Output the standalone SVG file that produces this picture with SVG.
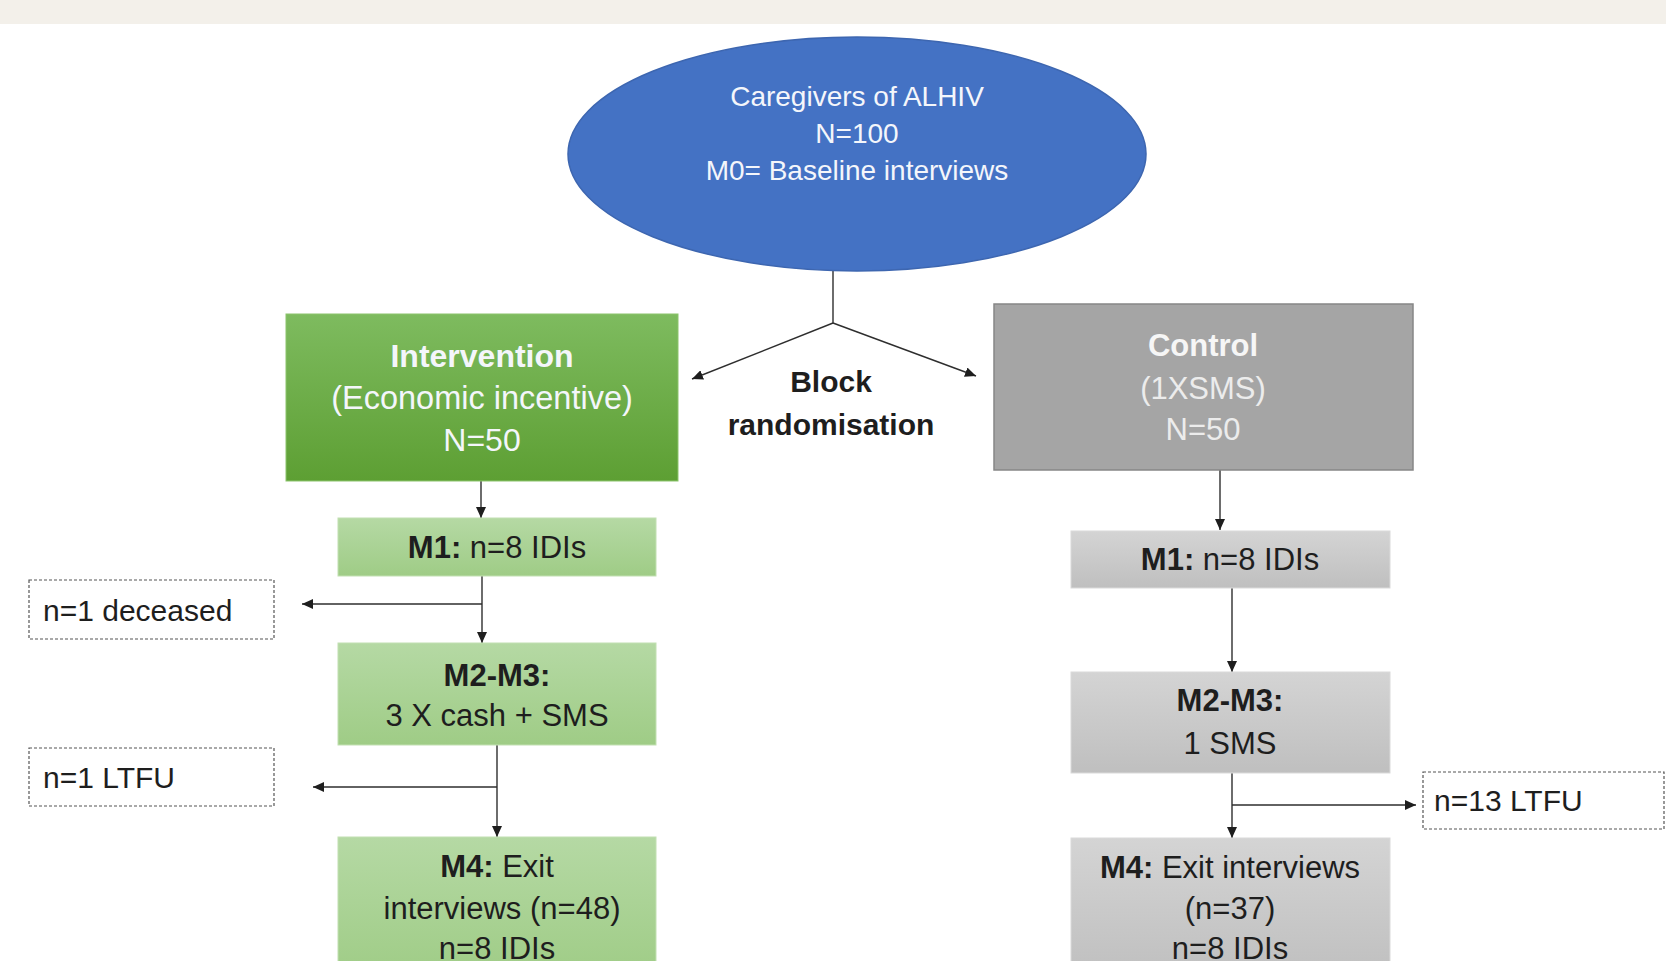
<svg xmlns="http://www.w3.org/2000/svg" width="1666" height="961" viewBox="0 0 1666 961">
<style>
text{font-family:"Liberation Sans",Arial,sans-serif;text-anchor:middle}
.wt{fill:#f4f6fb}
.dk{fill:#1e1e1e}
.b{font-weight:bold}
.ln{stroke:#2e2e2e;stroke-width:1.4;fill:none}
.dash{fill:#fff;stroke:#555;stroke-width:1.2;stroke-dasharray:3 2}
</style>
<defs>
<linearGradient id="gMain" x1="0" y1="0" x2="0" y2="1"><stop offset="0" stop-color="#7ebb5f"/><stop offset="1" stop-color="#5d9f33"/></linearGradient>
<linearGradient id="gLight" x1="0" y1="0" x2="0" y2="1"><stop offset="0" stop-color="#b5d9a4"/><stop offset="1" stop-color="#9fcc86"/></linearGradient>
<linearGradient id="gGray" x1="0" y1="0" x2="0" y2="1"><stop offset="0" stop-color="#d4d4d4"/><stop offset="1" stop-color="#bfbfbf"/></linearGradient>
<marker id="ah" markerUnits="userSpaceOnUse" markerWidth="12" markerHeight="10" refX="11" refY="5" orient="auto"><path d="M0,0 L11,5 L0,10 Z" fill="#1e1e1e"/></marker>
</defs>
<rect x="0" y="0" width="1666" height="24" fill="#f3f0ea"/>

<g id="connectors">
<path class="ln" d="M833,271 V323"/>
<path class="ln" d="M833,323 L692,379" marker-end="url(#ah)"/>
<path class="ln" d="M833,323 L976,376" marker-end="url(#ah)"/>
<path class="ln" d="M481,481 V518" marker-end="url(#ah)"/>
<path class="ln" d="M482,576 V643" marker-end="url(#ah)"/>
<path class="ln" d="M482,604 H302" marker-end="url(#ah)"/>
<path class="ln" d="M497,745 V837" marker-end="url(#ah)"/>
<path class="ln" d="M497,787 H313" marker-end="url(#ah)"/>
<path class="ln" d="M1220,470 V530" marker-end="url(#ah)"/>
<path class="ln" d="M1232,588 V672" marker-end="url(#ah)"/>
<path class="ln" d="M1232,773 V838" marker-end="url(#ah)"/>
<path class="ln" d="M1232,805 H1416" marker-end="url(#ah)"/>
</g>

<g id="caregivers">
<ellipse cx="857" cy="154" rx="289" ry="117" fill="#4472c4" stroke="#3d66b0" stroke-width="1.5"/>
<text class="wt" x="857" y="106" font-size="28">Caregivers of ALHIV</text>
<text class="wt" x="857" y="143" font-size="28">N=100</text>
<text class="wt" x="857" y="180" font-size="28">M0= Baseline interviews</text>
</g>

<g id="block-randomisation">
<text class="dk b" x="831" y="392" font-size="30">Block</text>
<text class="dk b" x="831" y="435" font-size="30">randomisation</text>
</g>

<g id="intervention">
<rect x="286" y="314" width="392" height="167" fill="url(#gMain)" stroke="#8cc46c" stroke-width="1"/>
<text class="wt b" x="482" y="367" font-size="32">Intervention</text>
<text class="wt" x="482" y="409" font-size="32.5">(Economic incentive)</text>
<text class="wt" x="482" y="451" font-size="32">N=50</text>
</g>

<g id="control">
<rect x="994" y="304" width="419" height="166" fill="#a5a5a5" stroke="#878787" stroke-width="1.5"/>
<text class="b" fill="#f6f6f6" x="1203" y="356" font-size="31">Control</text>
<text fill="#ececec" x="1203" y="399" font-size="31">(1XSMS)</text>
<text fill="#ececec" x="1203" y="440" font-size="31">N=50</text>
</g>

<g id="int-m1">
<rect x="338" y="518" width="318" height="58" fill="url(#gLight)" stroke="#c2e0b2" stroke-width="1"/>
<text class="dk" x="497" y="558" font-size="31"><tspan class="b">M1:</tspan> n=8 IDIs</text>
</g>

<g id="int-deceased">
<rect class="dash" x="29" y="580" width="245" height="59"/>
<text class="dk" x="43" y="621" font-size="30" style="text-anchor:start">n=1 deceased</text>
</g>

<g id="int-m2m3">
<rect x="338" y="643" width="318" height="102" fill="url(#gLight)" stroke="#c2e0b2" stroke-width="1"/>
<text class="dk b" x="497" y="686" font-size="31">M2-M3:</text>
<text class="dk" x="497" y="726" font-size="31">3 X cash + SMS</text>
</g>

<g id="int-ltfu">
<rect class="dash" x="29" y="748" width="245" height="58"/>
<text class="dk" x="43" y="788" font-size="30" style="text-anchor:start">n=1 LTFU</text>
</g>

<g id="int-m4">
<rect x="338" y="837" width="318" height="140" fill="url(#gLight)" stroke="#c2e0b2" stroke-width="1"/>
<text class="dk" x="497" y="877" font-size="31"><tspan class="b">M4:</tspan> Exit</text>
<text class="dk" x="502" y="919" font-size="31">interviews (n=48)</text>
<text class="dk" x="497" y="959" font-size="31">n=8 IDIs</text>
</g>

<g id="ctrl-m1">
<rect x="1071" y="531" width="319" height="57" fill="url(#gGray)" stroke="#dadada" stroke-width="1"/>
<text class="dk" x="1230" y="570" font-size="31"><tspan class="b">M1:</tspan> n=8 IDIs</text>
</g>

<g id="ctrl-m2m3">
<rect x="1071" y="672" width="319" height="101" fill="url(#gGray)" stroke="#dadada" stroke-width="1"/>
<text class="dk b" x="1230" y="711" font-size="31">M2-M3:</text>
<text class="dk" x="1230" y="754" font-size="31">1 SMS</text>
</g>

<g id="ctrl-ltfu">
<rect class="dash" x="1423" y="772" width="241" height="57"/>
<text class="dk" x="1434" y="811" font-size="30" style="text-anchor:start">n=13 LTFU</text>
</g>

<g id="ctrl-m4">
<rect x="1071" y="838" width="319" height="140" fill="url(#gGray)" stroke="#dadada" stroke-width="1"/>
<text class="dk" x="1230" y="878" font-size="31"><tspan class="b">M4:</tspan> Exit interviews</text>
<text class="dk" x="1230" y="919" font-size="31">(n=37)</text>
<text class="dk" x="1230" y="959" font-size="31">n=8 IDIs</text>
</g>
</svg>
